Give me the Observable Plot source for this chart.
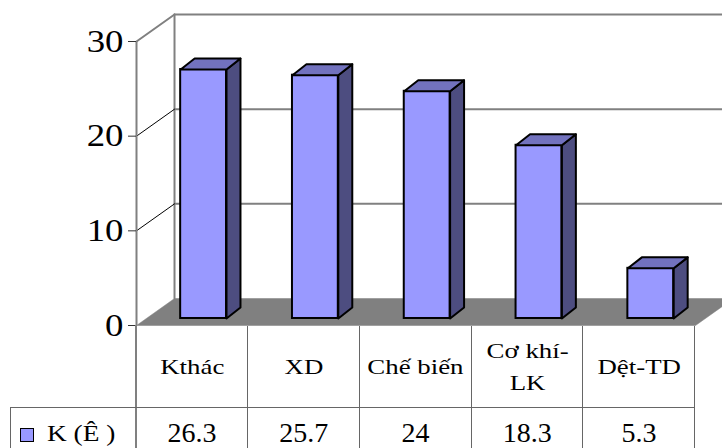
<!DOCTYPE html>
<html><head><meta charset="utf-8">
<script src="https://cdn.jsdelivr.net/npm/d3@7"></script>
<script src="https://cdn.jsdelivr.net/npm/@observablehq/plot@0.6"></script>
<style>
html,body{margin:0;padding:0;background:#fff;}
#wrap{position:relative;width:722px;height:448px;overflow:hidden;color:#000;}
#wrap svg{position:absolute;left:0;top:0;overflow:visible;}
.vl{position:absolute;width:0;border-left:1.5px solid #666;}
.hl{position:absolute;height:0;border-top:1.5px solid #666;}
.cat{position:absolute;top:326px;height:82px;display:flex;align-items:center;justify-content:center;font-size:22px;text-align:center;}
.cat span{display:inline-block;transform:scaleX(1.22);white-space:pre-line;line-height:32px;}
.val{position:absolute;top:407px;height:51px;display:flex;align-items:center;justify-content:center;font-size:28px;}
.leg{position:absolute;left:20px;top:428px;width:12px;height:12px;background:#9999FF;border:1.5px solid #000;}
.legt{position:absolute;left:47px;top:407px;height:53px;display:flex;align-items:center;font-size:24px;}
.legt span{display:inline-block;transform:scaleX(1.14);transform-origin:left center;white-space:pre;}
</style></head>
<body><div id="wrap"></div>
<script>
// ---- data ----
const categories = ["Kthác", "XD", "Chế biến", "Cơ khí-\nLK", "Dệt-TD"];
const values = [26.3, 25.7, 24, 18.3, 5.3];
const seriesName = "K (Ê )";
const yTicks = [0, 10, 20, 30];

const FONT = "Liberation Serif, Times New Roman, serif";

// ---- 3D geometry (in scale units) ----
const n = categories.length;
const ymax = yTicks[yTicks.length - 1];
const DX = 0.34, DY = 2.85;          // wall depth
const BX0 = 0.395, BX1 = 0.805, BY0 = 0.74; // bar front face
const BDX = 0.125, BDY = 1.16;       // bar depth

const bars = values.map((v, i) => ({i, v}));

const backGrid = [];
yTicks.filter(t => t > 0).forEach(t => {
  backGrid.push({k: t, x: DX, y: t + DY}, {k: t, x: n + DX + 0.5, y: t + DY});
});
const backEdge = [{x: DX, y: DY}, {x: DX, y: ymax + DY}];
const sideDiag = [];
yTicks.filter(t => t > 0 && t < ymax).forEach(t => {
  sideDiag.push({k: t, x: 0, y: t}, {k: t, x: DX, y: t + DY});
});
const topDiag = [{x: 0, y: ymax}, {x: DX, y: ymax + DY}];
const floor = [{x: 0, y: 0}, {x: n, y: 0}, {x: n + DX, y: DY}, {x: DX, y: DY}, {x: 0, y: 0}];

const sides = [], tops = [];
bars.forEach(({i, v}) => {
  const xa = i + BX1, ya = BY0, yt = v + BY0;
  [[xa, ya], [xa + BDX, ya + BDY], [xa + BDX, yt + BDY], [xa, yt], [xa, ya]]
    .forEach(([x, y]) => sides.push({k: i, x, y}));
  [[i + BX0, yt], [xa, yt], [xa + BDX, yt + BDY], [i + BX0 + BDX, yt + BDY], [i + BX0, yt]]
    .forEach(([x, y]) => tops.push({k: i, x, y}));
});

const chart = Plot.plot({
  width: 722, height: 326,
  marginLeft: 136, marginRight: 27, marginTop: 41, marginBottom: 1,
  x: {domain: [0, n], axis: null},
  y: {domain: [0, ymax], axis: null},
  style: {fontFamily: FONT, fontSize: "32px", color: "#000", background: "transparent", overflow: "visible"},
  marks: [
    Plot.line(backGrid, {x: "x", y: "y", z: "k", stroke: "#808080", strokeWidth: 2}),
    Plot.line(backEdge, {x: "x", y: "y", stroke: "#808080", strokeWidth: 2}),
    Plot.line(topDiag, {x: "x", y: "y", stroke: "#808080", strokeWidth: 2}),
    Plot.line(sideDiag, {x: "x", y: "y", z: "k", stroke: "#000", strokeWidth: 1}),
    Plot.line(floor, {x: "x", y: "y", fill: "#808080", stroke: "#808080", strokeWidth: 0.5}),
    Plot.rect(bars, {x1: d => d.i + BX0, x2: d => d.i + BX1, y1: d => BY0, y2: d => d.v + BY0, fill: "#9999FF", stroke: "#000", strokeWidth: 2}),
    Plot.line(sides, {x: "x", y: "y", z: "k", fill: "#4D4D80", stroke: "#000", strokeWidth: 2, strokeLinejoin: "round"}),
    Plot.line(tops, {x: "x", y: "y", z: "k", fill: "#7272BE", stroke: "#000", strokeWidth: 2, strokeLinejoin: "round"}),
    Plot.ruleX([0], {y1: 0, y2: ymax, stroke: "#808080", strokeWidth: 2}),
    Plot.axisY(yTicks, {tickSize: 8, tickPadding: 5, stroke: "#333", label: null})
  ]
});

// widen serif tick labels horizontally like the original rendering (scale about the anchor)
chart.querySelectorAll("text").forEach(t => {
  const T = t.getAttribute("transform") || "";
  t.setAttribute("transform", `${T} scale(1.15,1)`);
});

const wrap = document.getElementById("wrap");
wrap.style.fontFamily = FONT;
wrap.appendChild(chart);

// ---- data table below the chart ----
const xs = chart.scale("x");
const edges = d3.range(n + 1).map(i => xs.apply(i));
const add = (cls, style) => {
  const d = document.createElement("div");
  d.className = cls; Object.assign(d.style, style);
  d.style.fontFamily = FONT;
  wrap.appendChild(d); return d;
};
edges.forEach((x, j) => add("vl", {left: (x - 0.75) + "px", top: (j === 0 ? 325 : 326) + "px", height: "130px", borderLeft: j === 0 ? "2px solid #808080" : "1.5px solid #666"}));
add("hl", {left: "10px", top: "406.5px", width: (edges[n] - 10) + "px"});
add("vl", {left: "9.5px", top: "407px", height: "50px"});
categories.forEach((c, i) => {
  const d = add("cat", {left: edges[i] + "px", width: (edges[i + 1] - edges[i]) + "px"});
  const s = document.createElement("span"); s.textContent = c; d.appendChild(s);
});
values.forEach((v, i) => {
  const d = add("val", {left: edges[i] + "px", width: (edges[i + 1] - edges[i]) + "px"});
  d.textContent = String(v);
});
add("leg", {});
const lt = add("legt", {});
const ls = document.createElement("span"); ls.textContent = seriesName; lt.appendChild(ls);
</script></body></html>
